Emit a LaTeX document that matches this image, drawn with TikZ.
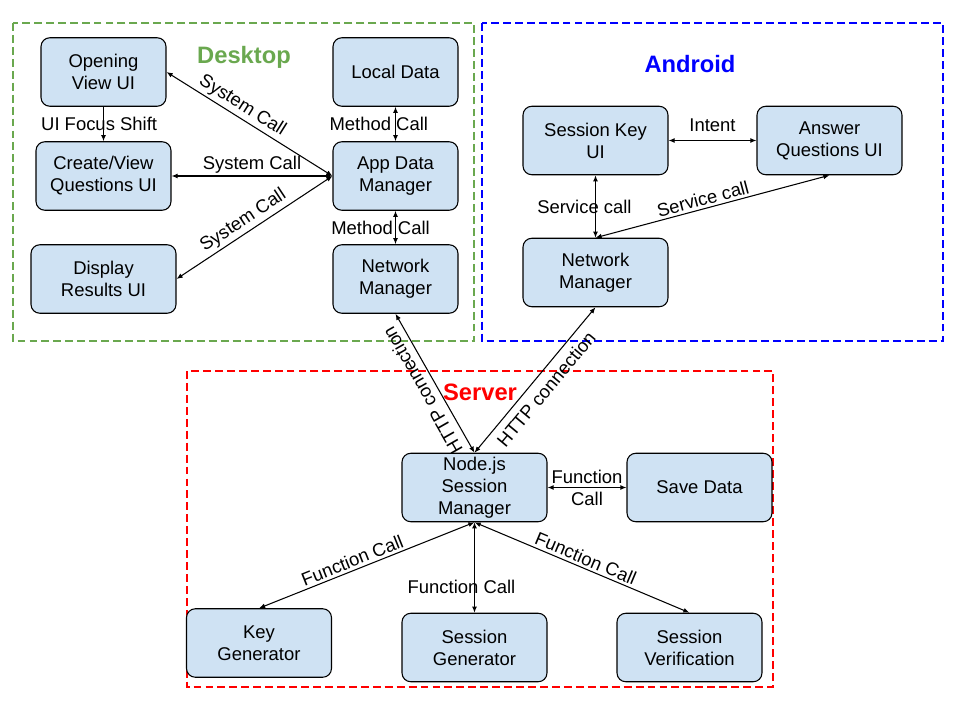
\documentclass[tikz,border=0pt]{standalone}
\usepackage{fontspec}
\setmainfont{Liberation Sans}
\usetikzlibrary{arrows.meta}
\definecolor{boxblue}{HTML}{CFE2F3}
\definecolor{deskgreen}{HTML}{6AA84F}

\begin{document}
\begin{tikzpicture}[x=0.02cm,y=-0.02cm,>={Latex[length=3.5pt,width=2.8pt]},line width=0.6pt,
  font=\fontsize{10.5}{12.5}\selectfont,
  box/.style={draw,rounded corners=5pt,fill=boxblue,align=center,minimum height=1.37cm,inner sep=1pt},
  zone/.style={line width=1.1pt,dash pattern=on 4.5pt off 2.3pt},
  title/.style={font=\fontsize{13.5}{15}\selectfont\bfseries},
  lbl/.style={inner sep=1.5pt}]
\useasboundingbox (0,0) rectangle (960,720);
% groups
\draw[zone,deskgreen] (13,23) rectangle (474,341);
\draw[zone,blue] (482,23) rectangle (943,341);
\draw[zone,red] (187,371) rectangle (773,687);
\node[title,text=deskgreen] (desk) at (244,57) {Desktop};
\node[title,text=blue] (andr) at (690,64) {Android};
\node[title,text=red] (serv) at (480,392) {Server};
% desktop
\node[box,minimum width=2.5cm] (open) at (103.5,72) {Opening\\View UI};
\node[box,minimum width=2.7cm] (create) at (103.5,176) {Create/View\\Questions UI};
\node[box,minimum width=2.9cm] (display) at (103.5,279) {Display\\Results UI};
\node[box,minimum width=2.5cm] (local) at (395.5,72) {Local Data};
\node[box,minimum width=2.5cm] (appdata) at (395.5,176) {App Data\\Manager};
\node[box,minimum width=2.5cm] (dnet) at (395.5,279) {Network\\Manager};
% android
\node[box,minimum width=2.9cm] (keyui) at (595.5,140.5) {Session Key\\UI};
\node[box,minimum width=2.9cm] (answer) at (829.5,140.5) {Answer\\Questions UI};
\node[box,minimum width=2.9cm] (anet) at (595.5,272.5) {Network\\Manager};
% server
\node[box,minimum width=2.9cm] (nodejs) at (474.5,487.5) {Node.js\\Session\\Manager};
\node[box,minimum width=2.9cm] (save) at (699.5,487.5) {Save Data};
\node[box,minimum width=2.9cm] (keygen) at (259,643) {Key\\Generator};
\node[box,minimum width=2.9cm] (sessgen) at (474.5,647.5) {Session\\Generator};
\node[box,minimum width=2.9cm] (verif) at (689.5,647.5) {Session\\Verification};
% desktop links
\draw[<->] (open.east) -- (appdata.west) node[lbl,pos=0.42,sloped,above]{System Call};
\draw[<->] (create.east) -- (appdata.west) node[lbl,midway,above]{System Call};
\draw[<->] (display.east) -- (appdata.west) node[lbl,pos=0.47,sloped,above]{System Call};
\draw[->] (open) -- (create) node[lbl,midway,xshift=-2.5pt]{UI Focus Shift};
\draw[<->] (local) -- (appdata) node[lbl,midway,xshift=-9.5pt]{Method Call};
\draw[<->] (appdata) -- (dnet) node[lbl,midway,xshift=-8.5pt]{Method Call};
% android links
\draw[<->] (keyui) -- (answer) node[lbl,midway,above=3pt]{Intent};
\draw[<->] (keyui) -- (anet) node[lbl,midway,xshift=-6.3pt]{Service call};
\draw[<->] (answer.south) -- (anet.north) node[lbl,pos=0.53,sloped,above]{Service call};
% http
\draw[<->] (nodejs.north) -- (dnet.south) node[lbl,midway,sloped,allow upside down,above=2.5pt]{HTTP connection};
\draw[<->] (nodejs.north) -- (anet.south) node[lbl,midway,sloped,below=2.5pt]{HTTP connection};
% server links
\draw[<->] (nodejs) -- (save) node[lbl,midway,align=center]{Function\\Call};
\draw[<->] (nodejs.south) -- (keygen.north) node[lbl,pos=0.55,sloped,above]{Function Call};
\draw[<->] (nodejs) -- (sessgen) node[lbl,pos=0.71,xshift=-7.4pt]{Function Call};
\draw[<->] (nodejs.south) -- (verif.north) node[lbl,midway,sloped,above]{Function Call};
\end{tikzpicture}
\end{document}
